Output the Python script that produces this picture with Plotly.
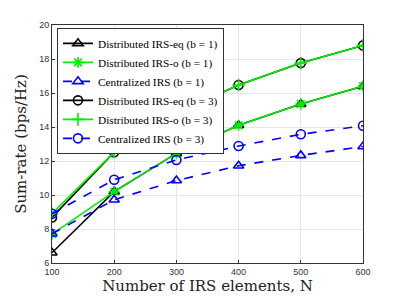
import plotly.graph_objects as go

N = [100, 200, 300, 400, 500, 600]
dist_eq_b1 = [6.6, 10.2, 12.45, 14.1, 15.35, 16.4]
dist_o_b1 = [7.7, 10.2, 12.45, 14.1, 15.35, 16.4]
cent_b1 = [7.72, 9.72, 10.85, 11.72, 12.33, 12.85]
dist_eq_b3 = [8.68, 12.52, 14.8, 16.47, 17.76, 18.8]
dist_o_b3 = [8.9, 12.52, 14.8, 16.47, 17.76, 18.8]
cent_b3 = [8.9, 10.9, 12.06, 12.88, 13.57, 14.07]

names = ["Distributed IRS-eq (b = 1)", "Distributed IRS-o (b = 1)", "Centralized IRS (b = 1)",
         "Distributed IRS-eq (b = 3)", "Distributed IRS-o (b = 3)", "Centralized IRS (b = 3)"]
series = [dist_eq_b1, dist_o_b1, cent_b1, dist_eq_b3, dist_o_b3, cent_b3]
colors = ["black", "#00ee00", "blue", "black", "#00ee00", "blue"]
dashes = ["solid", "solid", "dash", "solid", "solid", "dash"]
symbols = ["triangle-up-open", "asterisk-open", "triangle-up-open", "circle-open", "cross-thin-open", "circle-open"]

fig = go.Figure()
for nm, ys, c, d, s in zip(names, series, colors, dashes, symbols):
    fig.add_trace(go.Scatter(x=N, y=ys, name=nm, mode="lines+markers",
                             line=dict(color=c, width=1.6, dash=d),
                             marker=dict(symbol=s, size=9, color=c, line=dict(color=c, width=1.6))))

# page has an 8px default body margin, so the figure is 8px smaller
fig.update_layout(
    width=394, height=293,
    margin=dict(l=44, r=39, t=15, b=38),
    paper_bgcolor="white", plot_bgcolor="white",
    showlegend=True,
    legend=dict(x=0.016, y=0.988, xanchor="left", yanchor="top",
                bgcolor="white", bordercolor="#333", borderwidth=1,
                font=dict(family="Liberation Serif", size=11.3, color="black"),
                tracegroupgap=0, itemwidth=30),
)
fig.update_xaxes(range=[100, 600], tickvals=[100, 200, 300, 400, 500, 600],
                 showgrid=True, gridcolor="#e6e6e6", showline=True, linecolor="#333", mirror=True,
                 ticks="inside", ticklen=3, tickcolor="#333",
                 tickfont=dict(family="Liberation Sans", size=9, color="#333"),
                 title=dict(text="Number of IRS elements, N", font=dict(family="DejaVu Serif", size=15, color="#222"), standoff=2),
                 zeroline=False)
fig.update_yaxes(range=[6, 20], tickvals=[6, 8, 10, 12, 14, 16, 18, 20],
                 showgrid=True, gridcolor="#e6e6e6", showline=True, linecolor="#333", mirror=True,
                 ticks="inside", ticklen=3, tickcolor="#333",
                 tickfont=dict(family="Liberation Sans", size=9, color="#333"),
                 title=dict(text="Sum-rate (bps/Hz)", font=dict(family="DejaVu Serif", size=15, color="#222"), standoff=8),
                 zeroline=False)

fig.write_html("out.html")
